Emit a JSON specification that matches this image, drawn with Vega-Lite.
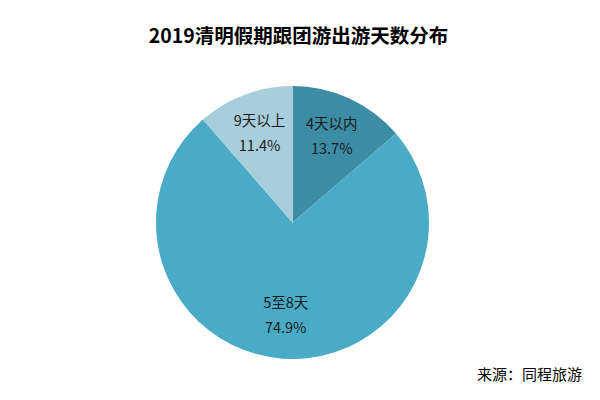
{
  "$schema": "https://vega.github.io/schema/vega-lite/v6.json",
  "width": 273,
  "height": 273,
  "autosize": {"type": "none"},
  "padding": {"left": 156, "top": 86, "right": 171, "bottom": 41},
  "background": "white",
  "config": {"view": {"stroke": null}},
  "title": {
    "text": "2019清明假期跟团游出游天数分布",
    "font": "Noto Sans CJK SC",
    "fontSize": 19.5,
    "fontWeight": "bold",
    "color": "#000000",
    "anchor": "middle",
    "offset": 39,
    "dx": 6
  },
  "data": {
    "values": [
      {"category": "4天以内", "share": 13.7, "pct": "13.7%"},
      {"category": "5至8天", "share": 74.9, "pct": "74.9%"},
      {"category": "9天以上", "share": 11.4, "pct": "11.4%"}
    ]
  },
  "encoding": {
    "theta": {"field": "share", "type": "quantitative", "stack": true},
    "detail": {"field": "category", "type": "nominal"},
    "order": {"field": "category", "type": "ordinal", "sort": "ascending"}
  },
  "layer": [
    {
      "mark": {"type": "arc"},
      "encoding": {
        "color": {
          "field": "category",
          "type": "nominal",
          "scale": {"domain": ["4天以内", "5至8天", "9天以上"], "range": ["#3C8CA5", "#4AABC6", "#A8CEDB"]},
          "legend": null
        }
      }
    },
    {
      "mark": {"type": "text", "radius": 94, "dy": -12, "font": "Noto Sans CJK SC", "fontSize": 14.5, "color": "#1a1a1a"},
      "encoding": {"text": {"field": "category"}}
    },
    {
      "mark": {"type": "text", "radius": 94, "dy": 13, "font": "Noto Sans CJK SC", "fontSize": 14.5, "color": "#1a1a1a"},
      "encoding": {"text": {"field": "pct"}}
    },
    {
      "data": {"values": [{"source": "来源：同程旅游"}]},
      "mark": {"type": "text", "align": "right", "baseline": "middle", "dx": 153, "dy": 16, "font": "Noto Sans CJK SC", "fontSize": 15, "color": "#000000"},
      "encoding": {
        "theta": null,
        "detail": null,
        "order": null,
        "x": {"value": "width"},
        "y": {"value": "height"},
        "text": {"field": "source"}
      }
    }
  ]
}
